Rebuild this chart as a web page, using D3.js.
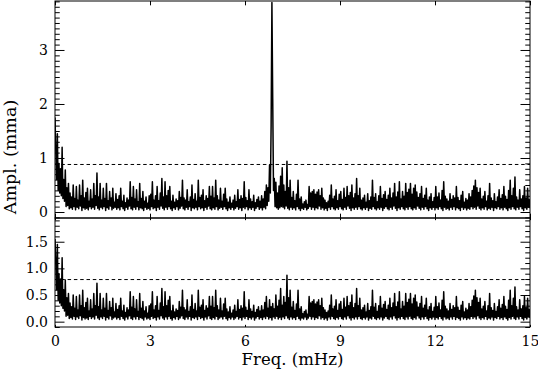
<!DOCTYPE html>
<html><head><meta charset="utf-8">
<script src="https://cdn.jsdelivr.net/npm/d3@7/dist/d3.min.js"></script>
<style>body{margin:0;background:#fff}svg{display:block}</style>
</head><body>
<svg id="c" width="538" height="373"></svg>
<script>
// ---- data (amplitude spectra) ----
const freqStep = 0.025;           // mHz between samples
const residualAmp = [             // lower panel, 0.0 .. 15.0 mHz
1.55,1.10,0.60,1.45,0.40,0.90,0.35,0.80,0.30,1.20,0.25,0.60,0.20,0.78,0.10,0.45,0.12,0.53,0.06,0.35,
0.08,0.28,0.05,0.50,0.10,0.25,0.04,0.47,0.09,0.22,0.06,0.50,0.11,0.30,0.03,0.59,0.08,0.26,0.05,0.36,
0.07,0.44,0.04,0.20,0.10,0.41,0.06,0.24,0.09,0.53,0.05,0.30,0.12,0.72,0.07,0.28,0.04,0.53,0.09,0.22,
0.06,0.44,0.10,0.25,0.03,0.53,0.08,0.21,0.05,0.38,0.11,0.26,0.04,0.44,0.07,0.18,0.09,0.34,0.05,0.23,
0.08,0.30,0.04,0.44,0.10,0.20,0.06,0.31,0.03,0.17,0.09,0.26,0.05,0.22,0.11,0.56,0.06,0.27,0.04,0.47,
0.09,0.24,0.05,0.41,0.10,0.19,0.04,0.53,0.08,0.25,0.06,0.38,0.03,0.20,0.09,0.28,0.05,0.16,0.07,0.30,
0.04,0.33,0.10,0.56,0.06,0.22,0.08,0.30,0.03,0.47,0.09,0.21,0.05,0.35,0.11,0.62,0.07,0.28,0.04,0.56,
0.09,0.30,0.05,0.40,0.10,0.47,0.06,0.20,0.03,0.31,0.08,0.18,0.05,0.24,0.10,0.21,0.04,0.38,0.07,0.27,
0.11,0.59,0.06,0.26,0.04,0.22,0.09,0.41,0.05,0.19,0.10,0.28,0.03,0.50,0.08,0.23,0.06,0.34,0.09,0.20,
0.04,0.59,0.10,0.27,0.06,0.31,0.08,0.41,0.03,0.21,0.09,0.30,0.05,0.25,0.11,0.47,0.06,0.29,0.04,0.47,
0.08,0.26,0.05,0.59,0.10,0.30,0.04,0.22,0.07,0.44,0.09,0.20,0.05,0.33,0.10,0.44,0.06,0.24,0.03,0.18,
0.08,0.28,0.05,0.16,0.09,0.22,0.04,0.31,0.07,0.19,0.10,0.41,0.05,0.23,0.08,0.30,0.03,0.25,0.09,0.56,
0.06,0.27,0.10,0.21,0.04,0.41,0.08,0.24,0.05,0.19,0.09,0.31,0.03,0.17,0.07,0.23,0.10,0.28,0.05,0.20,
0.08,0.30,0.04,0.22,0.09,0.36,0.06,0.47,0.10,0.25,0.05,0.41,0.08,0.28,0.03,0.34,0.09,0.24,0.06,0.50,
0.10,0.29,0.05,0.40,0.08,0.62,0.04,0.31,0.09,0.47,0.06,0.36,0.11,0.87,0.07,0.45,0.04,0.59,0.09,0.27,
0.05,0.38,0.08,0.21,0.04,0.33,0.10,0.59,0.06,0.24,0.03,0.28,0.07,0.15,0.05,0.19,0.09,0.22,0.04,0.14,
0.07,0.47,0.10,0.35,0.05,0.38,0.09,0.41,0.04,0.33,0.08,0.37,0.06,0.41,0.11,0.30,0.05,0.44,0.08,0.26,
0.04,0.22,0.07,0.17,0.03,0.20,0.09,0.31,0.05,0.50,0.10,0.24,0.06,0.29,0.04,0.41,0.08,0.21,0.05,0.33,
0.10,0.38,0.06,0.23,0.04,0.44,0.09,0.27,0.05,0.47,0.11,0.30,0.07,0.36,0.03,0.50,0.08,0.26,0.05,0.34,
0.09,0.62,0.05,0.30,0.10,0.44,0.06,0.22,0.04,0.26,0.08,0.31,0.05,0.18,0.09,0.34,0.03,0.21,0.07,0.28,
0.05,0.59,0.10,0.27,0.06,0.34,0.04,0.19,0.08,0.30,0.05,0.47,0.09,0.25,0.03,0.32,0.07,0.38,0.10,0.23,
0.06,0.31,0.04,0.44,0.09,0.26,0.05,0.35,0.11,0.53,0.07,0.28,0.03,0.37,0.08,0.56,0.05,0.24,0.10,0.38,
0.06,0.29,0.04,0.53,0.09,0.36,0.05,0.42,0.10,0.53,0.06,0.33,0.04,0.44,0.08,0.50,0.05,0.37,0.11,0.27,
0.07,0.34,0.04,0.47,0.09,0.25,0.05,0.31,0.10,0.44,0.06,0.22,0.03,0.28,0.08,0.34,0.05,0.19,0.09,0.27,
0.04,0.47,0.08,0.28,0.05,0.35,0.10,0.22,0.06,0.40,0.03,0.56,0.09,0.29,0.05,0.24,0.07,0.20,0.04,0.34,
0.09,0.23,0.05,0.30,0.10,0.26,0.04,0.47,0.08,0.27,0.06,0.21,0.03,0.31,0.09,0.38,0.05,0.18,0.08,0.25,
0.04,0.22,0.07,0.34,0.05,0.28,0.10,0.40,0.06,0.48,0.09,0.59,0.05,0.45,0.11,0.36,0.07,0.44,0.04,0.24,
0.08,0.29,0.05,0.38,0.10,0.20,0.04,0.30,0.07,0.53,0.05,0.26,0.09,0.21,0.03,0.34,0.08,0.19,0.06,0.28,
0.10,0.41,0.05,0.25,0.08,0.32,0.04,0.47,0.09,0.29,0.06,0.23,0.03,0.40,0.08,0.59,0.05,0.30,0.10,0.44,
0.06,0.65,0.04,0.28,0.09,0.22,0.05,0.41,0.10,0.24,0.06,0.30,0.03,0.47,0.08,0.26,0.05,0.44,0.09,0.23,
0.07
];
// upper panel (original spectrum) differs from the residual only here:
const topLowFreqStart = 0.0;
const topLowFreqAmp = [1.75, 1.15];
const topPeakStart = 6.5;
const topPeakAmp = [
0.08,0.30,0.04,0.24,0.09,0.38,0.06,0.50,0.12,0.45,0.20,0.87,0.35,1.60,3.88,2.10,0.40,0.62,0.10,0.55,
0.08,0.35,0.05,0.48,0.08,0.66,0.10,0.82,0.09,0.50,0.06,0.38,0.11,0.94,0.07,0.45
];
const topThreshold = 0.88;
const bottomThreshold = 0.79;
const xTickValues = [0, 3, 6, 9, 12, 15];
const topYTickValues = [0, 1, 2, 3];
const bottomYTickValues = [0.0, 0.5, 1.0, 1.5];
const xTitle = "Freq. (mHz)";
const yTitle = "Ampl. (mma)";

// ---- build series ----
const bottomSeries = residualAmp.map((a, i) => ({f: i * freqStep, a}));
const topSeries = bottomSeries.map(d => ({f: d.f, a: d.a}));
function override(start, vals) {
  const i0 = Math.round(start / freqStep);
  vals.forEach((v, k) => { topSeries[i0 + k].a = v; });
}
override(topLowFreqStart, topLowFreqAmp);
override(topPeakStart, topPeakAmp);

// ---- layout ----
const L = 55, R = 530, T1 = 1, B1 = 218, T2 = 218, B2 = 327;
const font = "DejaVu Serif";
const svg = d3.select("#c");
const x = d3.scaleLinear().domain([0, 15]).range([L, R]);
const yTop = d3.scaleLinear().domain([-0.111, 3.907]).range([B1, T1]);
const yBot = d3.scaleLinear().domain([-0.1, 1.945]).range([B2, T2]);

const defs = svg.append("defs");
defs.append("clipPath").attr("id", "clipTop").append("rect")
  .attr("x", L).attr("y", T1).attr("width", R - L).attr("height", B1 - T1);
defs.append("clipPath").attr("id", "clipBot").append("rect")
  .attr("x", L).attr("y", T2).attr("width", R - L).attr("height", B2 - T2);

function panel(series, y, clip, thr, yTicks, yFmt, top, bottom, showX) {
  const line = d3.line().x(d => x(d.f)).y(d => y(d.a));
  svg.append("path").datum(series).attr("d", line)
    .attr("fill", "none").attr("stroke", "#000").attr("stroke-width", 1.5)
    .attr("stroke-linejoin", "round").attr("clip-path", `url(#${clip})`);
  svg.append("line").attr("x1", x(0)).attr("x2", x(15))
    .attr("y1", y(thr)).attr("y2", y(thr))
    .attr("stroke", "#000").attr("stroke-width", 1).attr("stroke-dasharray", "3.5,2.8");

  const [d0, d1] = y.domain();
  const minor = d3.range(Math.ceil(d0 * 10), Math.floor(d1 * 10) + 1).map(v => v / 10)
    .filter(v => !yTicks.some(t => Math.abs(t - v) < 1e-6));
  const h = bottom - top;
  const xLen = Math.max(2, h * 0.02);

  svg.append("g").attr("transform", `translate(${L},0)`)
    .call(d3.axisLeft(y).tickValues(yTicks).tickFormat(yFmt).tickSizeInner(-9.5).tickSizeOuter(0).tickPadding(7))
    .call(g => g.select(".domain").remove());
  svg.append("g").attr("transform", `translate(${L},0)`)
    .call(d3.axisLeft(y).tickValues(minor).tickFormat("").tickSizeInner(-4.75).tickSizeOuter(0))
    .call(g => g.select(".domain").remove());
  svg.append("g").attr("transform", `translate(${R},0)`)
    .call(d3.axisRight(y).tickValues(yTicks).tickFormat("").tickSizeInner(-9.5).tickSizeOuter(0))
    .call(g => g.select(".domain").remove());
  svg.append("g").attr("transform", `translate(${R},0)`)
    .call(d3.axisRight(y).tickValues(minor).tickFormat("").tickSizeInner(-4.75).tickSizeOuter(0))
    .call(g => g.select(".domain").remove());
  svg.append("g").attr("transform", `translate(0,${top})`)
    .call(d3.axisTop(x).tickValues(xTickValues).tickFormat("").tickSizeInner(-xLen).tickSizeOuter(0))
    .call(g => g.select(".domain").remove());
  svg.append("g").attr("transform", `translate(0,${bottom})`)
    .call(d3.axisBottom(x).tickValues(xTickValues).tickFormat(showX ? d3.format("d") : "")
      .tickSizeInner(-xLen).tickSizeOuter(0).tickPadding(9))
    .call(g => g.select(".domain").remove());
  svg.append("rect").attr("x", L).attr("y", top).attr("width", R - L).attr("height", h)
    .attr("fill", "none").attr("stroke", "#000").attr("stroke-width", 1);
}

panel(topSeries, yTop, "clipTop", topThreshold, topYTickValues, d3.format("d"), T1, B1, false);
panel(bottomSeries, yBot, "clipBot", bottomThreshold, bottomYTickValues, d3.format(".1f"), T2, B2, true);

svg.selectAll(".tick line").attr("stroke", "#000");
svg.selectAll(".tick text").attr("font-family", font).attr("font-size", 14).attr("fill", "#000");

svg.append("text").attr("x", (L + R) / 2).attr("y", 365).attr("text-anchor", "middle")
  .attr("font-family", font).attr("font-size", 16.5).text(xTitle);
svg.append("text").attr("transform", `translate(16,157) rotate(-90)`)
  .attr("text-anchor", "middle").attr("font-family", font).attr("font-size", 17.5).text(yTitle);
</script>
</body></html>
